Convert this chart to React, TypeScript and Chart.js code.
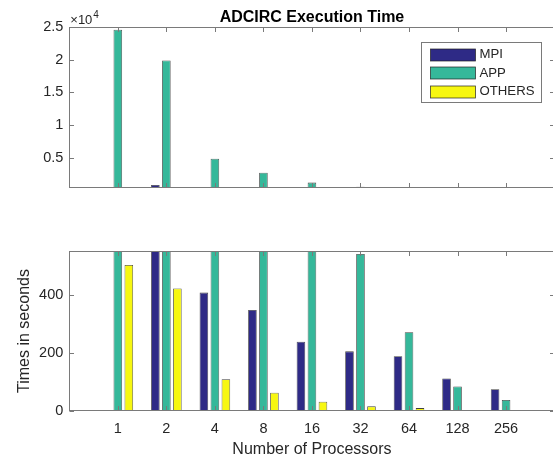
import React, { useEffect, useRef } from 'react';
import { Chart, registerables } from 'chart.js';

Chart.register(...registerables);

const FONT = '"Liberation Sans", Arial, Helvetica, sans-serif';
Chart.defaults.font.family = FONT;

const categories = ['1', '2', '4', '8', '16', '32', '64', '128', '256'];
const seriesNames = ['MPI', 'APP', 'OTHERS'];
const mpiTimes = [2, 820, 407, 347, 238, 205, 188, 112, 75];
const appTimes = [24600, 19900, 4850, 2700, 1180, 540, 271, 84, 38];
const othersTimes = [502, 421, 109, 63, 32, 16, 10, 3, 1];
const seriesColors = ['#2e2a86', '#35b89a', '#f7f711'];
const topTicks = [5000, 10000, 15000, 20000, 25000];
const bottomTicks = [0, 200, 400];
const topRange = [350, 25000];
const bottomRange = [0, 550];

const xLabels = ['', ...categories, ''];
const pad = (arr: number[]) => [null, ...arr, null];

const AXIS_COLOR = '#7a7a7a';
const TEXT_COLOR = '#262626';
const CANVAS_W = 558;

function makeDatasets() {
  return [mpiTimes, appTimes, othersTimes].map((d, i) => ({
    label: seriesNames[i],
    data: pad(d),
    backgroundColor: seriesColors[i],
    borderColor: 'rgba(30,30,30,0.85)',
    borderWidth: 0.8,
    categoryPercentage: 0.68,
    barPercentage: 0.78,
    clip: 0,
  }));
}

const zeroPad = (s: any) => {
  s.paddingLeft = 0;
  s.paddingRight = 0;
  s.paddingTop = 0;
  s.paddingBottom = 0;
};

const framePlugin = {
  id: 'frame',
  afterDatasetsDraw(chart: any) {
    const { ctx, chartArea: a, scales } = chart;
    ctx.save();
    ctx.strokeStyle = AXIS_COLOR;
    ctx.lineWidth = 1;
    const L = Math.round(a.left) + 0.5;
    const R = Math.round(a.right) - 0.5;
    const T = Math.round(a.top) + 0.5;
    const B = Math.round(a.bottom) - 0.5;
    ctx.strokeRect(L, T, R - L, B - T);
    const tl = 4.5;
    ctx.beginPath();
    for (let i = 1; i <= categories.length; i++) {
      const px = Math.round(scales.x.getPixelForValue(i)) + 0.5;
      ctx.moveTo(px, T);
      ctx.lineTo(px, T + tl);
      ctx.moveTo(px, B);
      ctx.lineTo(px, B - tl);
    }
    scales.y.ticks.forEach((t: any) => {
      const py = Math.round(scales.y.getPixelForValue(t.value)) + 0.5;
      ctx.moveTo(L, py);
      ctx.lineTo(L + tl, py);
      ctx.moveTo(R, py);
      ctx.lineTo(R - tl, py);
    });
    ctx.stroke();
    ctx.restore();
  },
};

const legendPlugin = {
  id: 'boxLegend',
  afterDraw(chart: any) {
    const { ctx, chartArea: a } = chart;
    const w = 120;
    const h = 60;
    const x0 = Math.round(a.right - 13.5 - w) + 0.5;
    const y0 = Math.round(a.top + 15) + 0.5;
    ctx.save();
    ctx.fillStyle = '#ffffff';
    ctx.fillRect(x0, y0, w, h);
    ctx.strokeStyle = AXIS_COLOR;
    ctx.lineWidth = 1;
    ctx.strokeRect(x0, y0, w, h);
    chart.data.datasets.forEach((ds: any, i: number) => {
      const cy = y0 + 12 + i * 18.5;
      ctx.fillStyle = ds.backgroundColor;
      ctx.fillRect(x0 + 9, Math.round(cy - 6), 45, 12);
      ctx.strokeStyle = 'rgba(30,30,30,0.85)';
      ctx.lineWidth = 0.8;
      ctx.strokeRect(x0 + 9, Math.round(cy - 6), 45, 12);
      ctx.fillStyle = TEXT_COLOR;
      ctx.font = `13.2px ${FONT}`;
      ctx.textAlign = 'left';
      ctx.textBaseline = 'middle';
      ctx.fillText(ds.label, x0 + 58, cy);
    });
    ctx.restore();
  },
};

const exponentPlugin = {
  id: 'exponent',
  afterDraw(chart: any) {
    const { ctx, chartArea: a } = chart;
    ctx.save();
    ctx.fillStyle = TEXT_COLOR;
    ctx.textAlign = 'left';
    ctx.textBaseline = 'alphabetic';
    ctx.font = `13px ${FONT}`;
    const base = '\u00d710';
    ctx.fillText(base, a.left + 1, a.top - 3.5);
    const w = ctx.measureText(base).width;
    ctx.font = `10px ${FONT}`;
    ctx.fillText('4', a.left + 1 + w + 1, a.top - 9);
    ctx.restore();
  },
};

const tickFont = { family: FONT, size: 14.5 };
const labelFont = { family: FONT, size: 16 };

export default function App() {
  const topRef = useRef<HTMLCanvasElement | null>(null);
  const botRef = useRef<HTMLCanvasElement | null>(null);

  useEffect(() => {
    const top = new Chart(topRef.current as HTMLCanvasElement, {
      type: 'bar',
      data: { labels: xLabels, datasets: makeDatasets() as any },
      options: {
        animation: false,
        responsive: false,
        maintainAspectRatio: false,
        layout: { autoPadding: false, padding: { left: 0.3, right: 3.4, top: 0, bottom: 12 } },
        plugins: {
          legend: { display: false },
          tooltip: { enabled: false },
          title: {
            display: true,
            text: 'ADCIRC Execution Time',
            fullSize: false,
            color: '#000000',
            font: { family: FONT, size: 16, weight: 'bold' },
            padding: { top: 8, bottom: 0 },
          },
        },
        scales: {
          x: {
            type: 'category',
            display: false,
            offset: false,
            grid: { display: false, drawTicks: false },
            afterFit: zeroPad,
          },
          y: {
            min: topRange[0],
            max: topRange[1],
            afterBuildTicks: (s: any) => {
              s.ticks = topTicks.map((v) => ({ value: v }));
            },
            afterFit: (s: any) => {
              s.width = 69;
              zeroPad(s);
            },
            grid: { display: false, drawTicks: false },
            border: { display: false },
            ticks: {
              font: tickFont,
              color: TEXT_COLOR,
              padding: 6,
              callback: (v: any) => String(Number(v) / 10000),
            },
          },
        },
      } as any,
      plugins: [framePlugin, exponentPlugin, legendPlugin],
    });

    const bot = new Chart(botRef.current as HTMLCanvasElement, {
      type: 'bar',
      data: { labels: xLabels, datasets: makeDatasets() as any },
      options: {
        animation: false,
        responsive: false,
        maintainAspectRatio: false,
        layout: { autoPadding: false, padding: { left: 0.3, right: 3.4, top: 51, bottom: 0 } },
        plugins: {
          legend: { display: false },
          tooltip: { enabled: false },
        },
        scales: {
          x: {
            type: 'category',
            offset: false,
            grid: { display: false, drawTicks: false },
            border: { display: false },
            afterFit: (s: any) => {
              s.height = 51;
              zeroPad(s);
            },
            ticks: { autoSkip: false, maxRotation: 0, font: tickFont, color: TEXT_COLOR, padding: 9 },
            title: {
              display: true,
              text: 'Number of Processors',
              font: labelFont,
              color: TEXT_COLOR,
              padding: { top: 0, bottom: 3 },
            },
          },
          y: {
            min: bottomRange[0],
            max: bottomRange[1],
            afterBuildTicks: (s: any) => {
              s.ticks = bottomTicks.map((v) => ({ value: v }));
            },
            afterFit: (s: any) => {
              s.width = 69;
              zeroPad(s);
            },
            grid: { display: false, drawTicks: false },
            border: { display: false },
            ticks: { font: tickFont, color: TEXT_COLOR, padding: 6 },
            title: {
              display: true,
              text: 'Times in seconds',
              font: labelFont,
              color: TEXT_COLOR,
              padding: { top: 15, bottom: 0 },
            },
          },
        },
      } as any,
      plugins: [framePlugin],
    });

    return () => {
      top.destroy();
      bot.destroy();
    };
  }, []);

  return (
    <div
      style={{
        position: 'absolute',
        left: 0,
        top: 0,
        width: 553,
        height: 462,
        overflow: 'hidden',
        background: '#ffffff',
      }}
    >
      <canvas ref={topRef} width={CANVAS_W} height={200} style={{ position: 'absolute', left: 0, top: 0 }} />
      <canvas ref={botRef} width={CANVAS_W} height={262} style={{ position: 'absolute', left: 0, top: 200 }} />
    </div>
  );
}
